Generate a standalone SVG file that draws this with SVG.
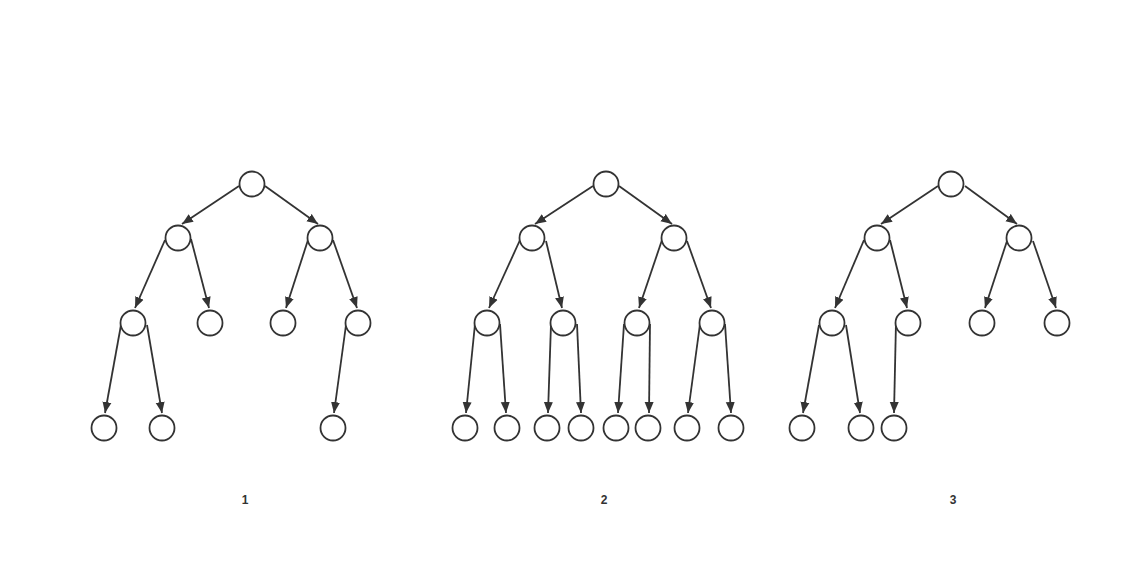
<svg xmlns="http://www.w3.org/2000/svg" width="1131" height="582" viewBox="0 0 1131 582">
<defs>
<style>
.n{fill:#fff;stroke:#333;stroke-width:1.8}
.e{stroke:#333;stroke-width:1.8;fill:none;marker-end:url(#ah)}
.t{font-family:"Liberation Sans",Arial,sans-serif;font-size:12px;font-weight:bold;fill:#333;text-anchor:middle}
</style>
<marker id="ah" markerUnits="userSpaceOnUse" markerWidth="12" markerHeight="10" refX="11" refY="4.5" orient="auto" viewBox="0 0 12 9">
<path d="M0,0 L11,4.5 L0,9 Z" fill="#333"/>
</marker>
</defs>
<rect width="1131" height="582" fill="#fff"/>
<g id="connectors">
<!-- tree 1 -->
<line class="e" x1="239" y1="186" x2="182" y2="224"/>
<line class="e" x1="265" y1="186" x2="318" y2="224"/>
<line class="e" x1="165" y1="240" x2="135" y2="308"/>
<line class="e" x1="191" y1="239" x2="209" y2="308"/>
<line class="e" x1="308" y1="240" x2="286" y2="308"/>
<line class="e" x1="333" y1="240" x2="357" y2="308"/>
<line class="e" x1="121" y1="325" x2="105" y2="413"/>
<line class="e" x1="147" y1="325" x2="162" y2="413"/>
<line class="e" x1="346" y1="325" x2="334" y2="413"/>
<!-- tree 2 -->
<line class="e" x1="593" y1="186" x2="535" y2="224"/>
<line class="e" x1="619" y1="186" x2="672" y2="224"/>
<line class="e" x1="520" y1="240" x2="489" y2="308"/>
<line class="e" x1="546" y1="241" x2="562" y2="308"/>
<line class="e" x1="662" y1="240" x2="639" y2="308"/>
<line class="e" x1="687" y1="241" x2="711" y2="308"/>
<line class="e" x1="475" y1="324" x2="466" y2="413"/>
<line class="e" x1="500" y1="324" x2="506" y2="413"/>
<line class="e" x1="551" y1="324" x2="548" y2="413"/>
<line class="e" x1="577" y1="324" x2="581" y2="413"/>
<line class="e" x1="624" y1="324" x2="618" y2="413"/>
<line class="e" x1="650" y1="324" x2="649" y2="413"/>
<line class="e" x1="700" y1="324" x2="688" y2="413"/>
<line class="e" x1="725" y1="324" x2="731" y2="413"/>
<!-- tree 3 -->
<line class="e" x1="938" y1="186" x2="881" y2="224"/>
<line class="e" x1="965" y1="186" x2="1017" y2="224"/>
<line class="e" x1="864" y1="240" x2="835" y2="308"/>
<line class="e" x1="890" y1="240" x2="907" y2="308"/>
<line class="e" x1="1007" y1="241" x2="985" y2="308"/>
<line class="e" x1="1033" y1="241" x2="1056" y2="308"/>
<line class="e" x1="819" y1="325" x2="803" y2="413"/>
<line class="e" x1="846" y1="325" x2="860" y2="413"/>
<line class="e" x1="896" y1="322" x2="894" y2="413"/>
</g>
<g id="tree1">
<circle id="t1-root" class="n" cx="252" cy="184" r="12.5"/>
<circle id="t1-a" class="n" cx="178" cy="238" r="12.5"/>
<circle id="t1-b" class="n" cx="320" cy="238" r="12.5"/>
<circle id="t1-aa" class="n" cx="133" cy="323" r="12.5"/>
<circle id="t1-ab" class="n" cx="210" cy="323" r="12.5"/>
<circle id="t1-ba" class="n" cx="283" cy="323" r="12.5"/>
<circle id="t1-bb" class="n" cx="358" cy="323" r="12.5"/>
<circle id="t1-aaa" class="n" cx="104" cy="428" r="12.5"/>
<circle id="t1-aab" class="n" cx="162" cy="428" r="12.5"/>
<circle id="t1-bba" class="n" cx="333" cy="428" r="12.5"/>
</g>
<g id="tree2">
<circle id="t2-root" class="n" cx="606" cy="184" r="12.5"/>
<circle id="t2-a" class="n" cx="532" cy="238" r="12.5"/>
<circle id="t2-b" class="n" cx="674" cy="238" r="12.5"/>
<circle id="t2-aa" class="n" cx="487" cy="323" r="12.5"/>
<circle id="t2-ab" class="n" cx="563" cy="323" r="12.5"/>
<circle id="t2-ba" class="n" cx="637" cy="323" r="12.5"/>
<circle id="t2-bb" class="n" cx="712" cy="323" r="12.5"/>
<circle id="t2-aaa" class="n" cx="465" cy="428" r="12.5"/>
<circle id="t2-aab" class="n" cx="507" cy="428" r="12.5"/>
<circle id="t2-aba" class="n" cx="547" cy="428" r="12.5"/>
<circle id="t2-abb" class="n" cx="581" cy="428" r="12.5"/>
<circle id="t2-baa" class="n" cx="616" cy="428" r="12.5"/>
<circle id="t2-bab" class="n" cx="648" cy="428" r="12.5"/>
<circle id="t2-bba" class="n" cx="687" cy="428" r="12.5"/>
<circle id="t2-bbb" class="n" cx="731" cy="428" r="12.5"/>
</g>
<g id="tree3">
<circle id="t3-root" class="n" cx="951" cy="184" r="12.5"/>
<circle id="t3-a" class="n" cx="877" cy="238" r="12.5"/>
<circle id="t3-b" class="n" cx="1019" cy="238" r="12.5"/>
<circle id="t3-aa" class="n" cx="832" cy="323" r="12.5"/>
<circle id="t3-ab" class="n" cx="908" cy="323" r="12.5"/>
<circle id="t3-ba" class="n" cx="982" cy="323" r="12.5"/>
<circle id="t3-bb" class="n" cx="1057" cy="323" r="12.5"/>
<circle id="t3-aaa" class="n" cx="802" cy="428" r="12.5"/>
<circle id="t3-aab" class="n" cx="861" cy="428" r="12.5"/>
<circle id="t3-aba" class="n" cx="894" cy="428" r="12.5"/>
</g>
<g id="labels">
<text class="t" x="245" y="504">1</text>
<text class="t" x="604" y="504">2</text>
<text class="t" x="953" y="504">3</text>
</g>
</svg>
